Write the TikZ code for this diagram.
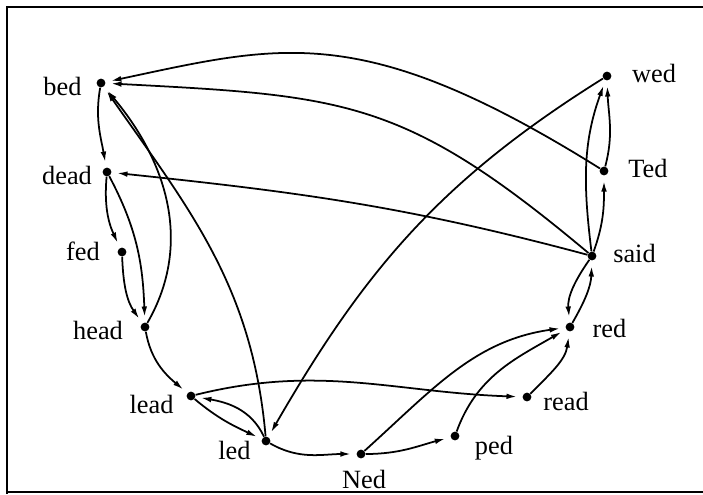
\documentclass[tikz,border=0pt]{standalone}
\usepackage{fontspec}
\setmainfont{Liberation Serif}
\usetikzlibrary{arrows.meta}

\begin{document}
\begin{tikzpicture}[x=0.02cm, y=0.02cm,
  dot/.style={circle, fill=black, inner sep=0pt, minimum size=5pt},
  word/.style={font=\fontsize{15}{18}\selectfont, inner sep=0pt},
  arc/.style={line width=1pt, -{Latex[length=6pt,width=3.2pt]}, shorten >=3pt}]
\useasboundingbox (0,0) rectangle (703,-494);

% frame (right side cut off)
\draw[line width=1.1pt] (703,-7) -- (7,-7) -- (7,-494);
\draw[line width=1.1pt] (7,-492) -- (703,-492);

% words as dots
\node[dot] (bed)  at (101,-83)  {};
\node[dot] (dead) at (107,-172) {};
\node[dot] (fed)  at (122,-252) {};
\node[dot] (head) at (145,-327) {};
\node[dot] (lead) at (191,-396) {};
\node[dot] (led)  at (266,-441) {};
\node[dot] (Ned)  at (361,-454) {};
\node[dot] (ped)  at (455,-436) {};
\node[dot] (read) at (527,-397) {};
\node[dot] (red)  at (570,-327) {};
\node[dot] (said) at (592,-256) {};
\node[dot] (Ted)  at (604,-171) {};
\node[dot] (wed)  at (607,-76)  {};

% labels
\node[word] (bedl)  at (62.5,-86.5) {bed};
\node[word] (deadl) at (67,-175.5)  {dead};
\node[word] (fedl)  at (83,-251.5)  {fed};
\node[word] (headl) at (98,-330)    {head};
\node[word] (leadl) at (151.5,-404) {lead};
\node[word] (ledl)  at (234.5,-450.5) {led};
\node[word] (Nedl)  at (364,-479.5) {Ned};
\node[word] (pedl)  at (494,-448.5) {ped};
\node[word] (readl) at (566,-401.5) {read};
\node[word] (redl)  at (609.5,-328) {red};
\node[word] (saidl) at (634.5,-253.5) {said};
\node[word] (Tedl)  at (648,-168.5) {Ted};
\node[word] (wedl)  at (654,-73.5)  {wed};

% left column
\draw[arc] (bed) to[out=260, in=100] (dead);
\draw[arc] (dead) to[out=265, in=115] (fed);
\draw[arc] (dead) to[out=-62, in=92] (head);
\draw[arc] (fed) to[out=-88, in=125] (head);
\draw[arc] (head) to[out=60, in=-50] (bed);
\draw[arc] (led) to[out=95, in=-55] (bed);
\draw[arc] (head) to[out=-80, in=140] (lead);
\draw[arc] (lead) to[out=-40, in=155] (led);
\draw[arc] (led) to[out=115, in=-10] (lead);

% bottom row
\draw[arc] (lead) to[out=14, in=178] (read);
\draw[arc] (led) to[out=-30, in=180] (Ned);
\draw[arc] (Ned) to[out=0, in=195] (ped);
\draw[arc] (Ned) to[out=42, in=188] (red);
\draw[arc] (ped) to[out=70, in=210] (red);
\draw[arc] (read) to[out=45, in=262] (red);

% right column
\draw[arc] (said) to[out=-125, in=95] (red);
\draw[arc] (red) to[out=60, in=-92] (said);
\draw[arc] (said) to[out=97, in=-110] (wed);
\draw[arc] (said) to[out=70, in=-90] (Ted);
\draw[arc] (Ted) to[out=75, in=-88] (wed);

% long ones across
\draw[arc] (Ted) to[out=148, in=12, out distance=5.6cm, in distance=3.6cm] (bed);
\draw[arc] (said) to[out=140, in=-3, looseness=1.2] (bed);
\draw[arc] (said) to[out=165, in=-6] (dead);
\draw[arc] (wed) to[out=-148, in=60] (led);
\end{tikzpicture}
\end{document}
